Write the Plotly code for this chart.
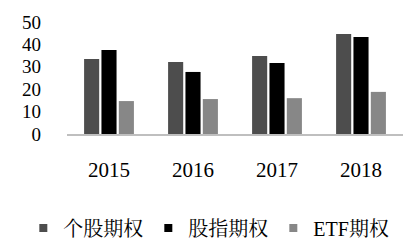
import plotly.graph_objects as go

years = ["2015", "2016", "2017", "2018"]
series_names = ["个股期权", "股指期权", "ETF期权"]
stock_opt = [33.5, 32.1, 34.8, 44.6]
index_opt = [37.5, 27.7, 31.7, 43.3]
etf_opt = [14.7, 15.6, 16.0, 18.8]
colors = ["#4d4d4d", "#000000", "#878787"]
y_ticks = [0, 10, 20, 30, 40, 50]

font_family = "Liberation Serif, Noto Serif CJK SC, Noto Sans CJK SC, serif"

fig = go.Figure()
for name, vals, c in zip(series_names, [stock_opt, index_opt, etf_opt], colors):
    fig.add_trace(go.Bar(x=years, y=vals, name=name, marker=dict(color=c, line=dict(width=0)),
                         showlegend=False))
    fig.add_trace(go.Scatter(x=[None], y=[None], mode="markers", name=name,
                             marker=dict(symbol="square", size=8, color=c)))

fig.update_layout(
    width=416, height=252,
    margin=dict(l=67, r=13, t=22, b=118, autoexpand=False),
    paper_bgcolor="white", plot_bgcolor="white",
    barmode="group", bargap=0.38, bargroupgap=0.13,
    font=dict(family=font_family, size=20, color="#000000"),
    legend=dict(orientation="h", x=-0.13, xanchor="left", y=-0.84, yanchor="middle",
                font=dict(size=20), itemwidth=30, tracegroupgap=0,
                entrywidth=80, entrywidthmode="pixels"),
)
fig.update_xaxes(showline=True, linecolor="#bfbfbf", linewidth=1.5, showgrid=False,
                 ticks="", ticklabelstandoff=16, tickfont=dict(size=21))
fig.update_yaxes(range=[0, 50], tickvals=y_ticks, showgrid=False, showline=False,
                 zeroline=False, ticks="", ticklabelstandoff=25, tickfont=dict(size=19))

fig.write_html("out.html")
